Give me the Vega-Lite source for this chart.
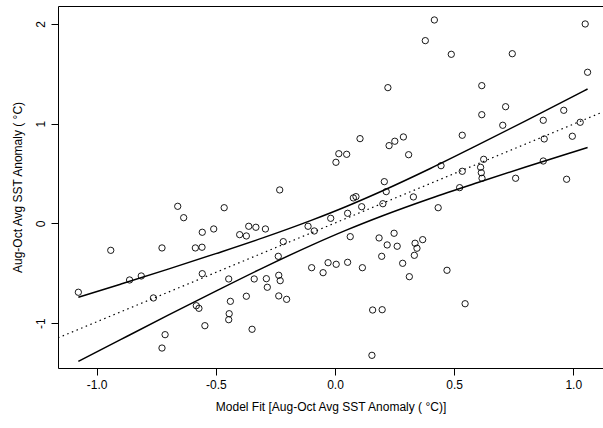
{
  "$schema": "https://vega.github.io/schema/vega-lite/v6.json",
  "autosize": {"type": "none"},
  "padding": {"left": 58, "top": 6, "right": 0, "bottom": 60},
  "width": 545,
  "height": 362,
  "background": "white",
  "config": {
    "view": {"stroke": null},
    "font": "Liberation Sans",
    "locale": {"number": {"decimal": ".", "thousands": ",", "grouping": [3], "currency": ["$", ""], "minus": "-"}},
    "axis": {
      "grid": false,
      "domainColor": "black",
      "domainWidth": 1,
      "tickColor": "black",
      "tickWidth": 1,
      "tickSize": 7,
      "labelColor": "black",
      "labelFontSize": 12,
      "labelFont": "Liberation Sans",
      "titleColor": "black",
      "titleFontSize": 12,
      "titleFont": "Liberation Sans",
      "titleFontWeight": "normal"
    }
  },
  "datasets": {
    "points": [
      {"x": -0.232, "y": 0.336}, {"x": -0.660, "y": 0.172}, {"x": -0.465, "y": 0.158}, {"x": -0.635, "y": 0.058},
      {"x": -0.557, "y": -0.088}, {"x": -0.509, "y": -0.055}, {"x": -0.362, "y": -0.028}, {"x": -0.332, "y": -0.038},
      {"x": -0.292, "y": -0.055}, {"x": -0.400, "y": -0.112}, {"x": -0.372, "y": -0.125}, {"x": -0.941, "y": -0.269},
      {"x": -0.726, "y": -0.245}, {"x": -0.586, "y": -0.245}, {"x": -0.558, "y": -0.238}, {"x": -0.217, "y": -0.182},
      {"x": -0.113, "y": -0.028}, {"x": -0.087, "y": -0.075}, {"x": -0.018, "y": 0.052}, {"x": -0.238, "y": -0.329},
      {"x": -1.077, "y": -0.689}, {"x": -0.862, "y": -0.566}, {"x": -0.813, "y": -0.526}, {"x": -0.557, "y": -0.503},
      {"x": -0.446, "y": -0.556}, {"x": -0.339, "y": -0.556}, {"x": -0.288, "y": -0.553}, {"x": -0.236, "y": -0.519},
      {"x": -0.230, "y": -0.573}, {"x": -0.284, "y": -0.639}, {"x": -0.098, "y": -0.443}, {"x": -0.050, "y": -0.493},
      {"x": -0.029, "y": -0.393}, {"x": 0.005, "y": -0.409}, {"x": -0.762, "y": -0.746}, {"x": -0.439, "y": -0.780},
      {"x": -0.372, "y": -0.729}, {"x": -0.236, "y": -0.726}, {"x": -0.203, "y": -0.760}, {"x": -0.582, "y": -0.824},
      {"x": -0.571, "y": -0.850}, {"x": -0.444, "y": -0.904}, {"x": -0.446, "y": -0.964}, {"x": -0.546, "y": -1.024},
      {"x": -0.348, "y": -1.060}, {"x": -0.713, "y": -1.114}, {"x": -0.726, "y": -1.248}, {"x": 0.207, "y": 0.419},
      {"x": 0.215, "y": 0.319}, {"x": 0.077, "y": 0.256}, {"x": 0.088, "y": 0.269}, {"x": 0.329, "y": 0.266},
      {"x": 0.112, "y": 0.168}, {"x": 0.053, "y": 0.102}, {"x": 0.201, "y": 0.198}, {"x": 0.433, "y": 0.158},
      {"x": 0.523, "y": 0.359}, {"x": 0.064, "y": -0.132}, {"x": 0.248, "y": -0.098}, {"x": 0.185, "y": -0.145},
      {"x": 0.219, "y": -0.215}, {"x": 0.261, "y": -0.228}, {"x": 0.336, "y": -0.198}, {"x": 0.368, "y": -0.162},
      {"x": 0.344, "y": -0.248}, {"x": 0.333, "y": -0.319}, {"x": 0.196, "y": -0.329}, {"x": 0.053, "y": -0.389},
      {"x": 0.115, "y": -0.443}, {"x": 0.284, "y": -0.399}, {"x": 0.312, "y": -0.533}, {"x": 0.470, "y": -0.469},
      {"x": 0.158, "y": -0.867}, {"x": 0.198, "y": -0.864}, {"x": 0.546, "y": -0.804}, {"x": 0.155, "y": -1.321},
      {"x": 0.417, "y": 2.039}, {"x": 1.050, "y": 1.999}, {"x": 0.379, "y": 1.832}, {"x": 0.488, "y": 1.695},
      {"x": 0.744, "y": 1.701}, {"x": 1.060, "y": 1.515}, {"x": 0.222, "y": 1.361}, {"x": 0.616, "y": 1.381},
      {"x": 0.616, "y": 1.090}, {"x": 0.716, "y": 1.170}, {"x": 0.960, "y": 1.134}, {"x": 0.874, "y": 1.034},
      {"x": 0.704, "y": 0.984}, {"x": 1.029, "y": 1.014}, {"x": 0.996, "y": 0.874}, {"x": 0.878, "y": 0.847},
      {"x": 0.534, "y": 0.884}, {"x": 0.105, "y": 0.850}, {"x": 0.287, "y": 0.867}, {"x": 0.251, "y": 0.824},
      {"x": 0.227, "y": 0.780}, {"x": 0.309, "y": 0.689}, {"x": 0.016, "y": 0.699}, {"x": 0.049, "y": 0.693},
      {"x": 0.004, "y": 0.613}, {"x": 0.624, "y": 0.643}, {"x": 0.445, "y": 0.579}, {"x": 0.874, "y": 0.626},
      {"x": 0.611, "y": 0.563}, {"x": 0.614, "y": 0.509}, {"x": 0.534, "y": 0.523}, {"x": 0.617, "y": 0.453},
      {"x": 0.758, "y": 0.453}, {"x": 0.972, "y": 0.443}
    ],
    "fit": [
      {"x": -1.1624, "y": -1.146},
      {"x": 1.1247, "y": 1.118}
    ],
    "band": [
      {"series": "upper", "x": -1.077, "y": -0.740}, {"series": "upper", "x": -0.9, "y": -0.608},
      {"series": "upper", "x": -0.7, "y": -0.457}, {"series": "upper", "x": -0.5, "y": -0.302},
      {"series": "upper", "x": -0.3, "y": -0.142}, {"series": "upper", "x": -0.1, "y": 0.031},
      {"series": "upper", "x": 0.05, "y": 0.173}, {"series": "upper", "x": 0.2, "y": 0.328},
      {"series": "upper", "x": 0.4, "y": 0.551}, {"series": "upper", "x": 0.6, "y": 0.787},
      {"series": "upper", "x": 0.8, "y": 1.028}, {"series": "upper", "x": 1.0, "y": 1.273},
      {"series": "upper", "x": 1.06, "y": 1.347},
      {"series": "lower", "x": -1.077, "y": -1.382}, {"series": "lower", "x": -0.9, "y": -1.164},
      {"series": "lower", "x": -0.7, "y": -0.919}, {"series": "lower", "x": -0.5, "y": -0.678},
      {"series": "lower", "x": -0.3, "y": -0.442}, {"series": "lower", "x": -0.1, "y": -0.219},
      {"series": "lower", "x": 0.05, "y": -0.064}, {"series": "lower", "x": 0.2, "y": 0.078},
      {"series": "lower", "x": 0.4, "y": 0.251}, {"series": "lower", "x": 0.6, "y": 0.411},
      {"series": "lower", "x": 0.8, "y": 0.566}, {"series": "lower", "x": 1.0, "y": 0.717},
      {"series": "lower", "x": 1.06, "y": 0.762}
    ]
  },
  "layer": [
    {
      "data": {"name": "points"},
      "mark": {"type": "point", "shape": "circle", "filled": false, "stroke": "black", "strokeWidth": 0.9, "size": 40, "opacity": 1},
      "encoding": {
        "x": {
          "field": "x", "type": "quantitative",
          "scale": {"domain": [-1.1624, 1.1247], "nice": false, "zero": false},
          "axis": {"orient": "bottom", "values": [-1, -0.5, 0, 0.5, 1], "format": ".1f", "labelPadding": 4, "titlePadding": 11,
                   "title": "Model Fit [Aug-Oct Avg SST Anomaly ( °C)]", "labelFlush": false, "labelOverlap": false}
        },
        "y": {
          "field": "y", "type": "quantitative",
          "scale": {"domain": [-1.448, 2.179], "nice": false, "zero": false},
          "axis": {"orient": "left", "values": [-1, 0, 1, 2], "format": "d", "labelAngle": -90, "labelAlign": "center",
                   "labelBaseline": "bottom", "labelPadding": 4, "titlePadding": 10,
                   "title": "Aug-Oct Avg SST Anomaly ( °C)", "labelFlush": false, "labelOverlap": false}
        }
      }
    },
    {
      "data": {"name": "fit"},
      "mark": {"type": "line", "stroke": "black", "strokeWidth": 1.2, "strokeDash": [1.5, 3.5], "clip": true},
      "encoding": {
        "x": {
          "field": "x", "type": "quantitative",
          "scale": {"domain": [-1.1624, 1.1247], "nice": false, "zero": false},
          "axis": {"orient": "top", "labels": false, "ticks": false, "title": null, "domain": true}
        },
        "y": {
          "field": "y", "type": "quantitative",
          "scale": {"domain": [-1.448, 2.179], "nice": false, "zero": false},
          "axis": null
        }
      }
    },
    {
      "data": {"name": "band"},
      "mark": {"type": "line", "stroke": "black", "strokeWidth": 1.5, "interpolate": "monotone", "clip": true},
      "encoding": {
        "x": {
          "field": "x", "type": "quantitative",
          "scale": {"domain": [-1.1624, 1.1247], "nice": false, "zero": false},
          "axis": null
        },
        "y": {
          "field": "y", "type": "quantitative",
          "scale": {"domain": [-1.448, 2.179], "nice": false, "zero": false},
          "axis": null
        },
        "detail": {"field": "series", "type": "nominal"}
      }
    }
  ],
  "resolve": {"axis": {"x": "independent", "y": "independent"}}
}
